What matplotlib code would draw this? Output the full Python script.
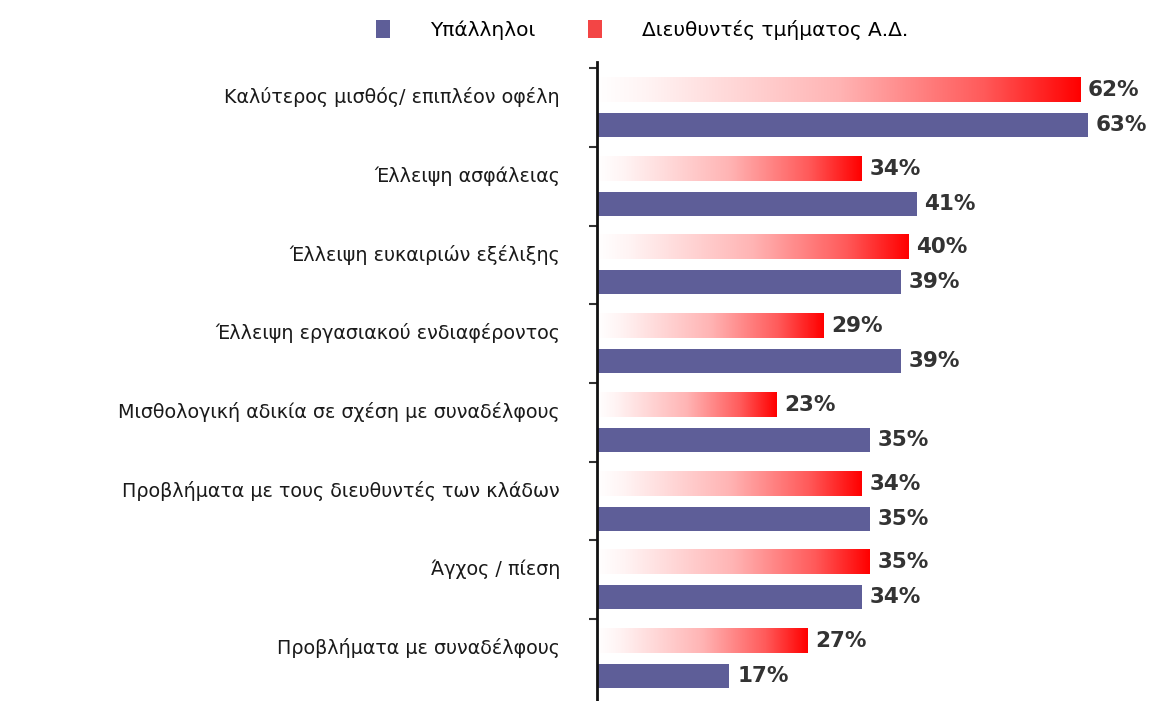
import numpy as np
import matplotlib
matplotlib.use("Agg")
import matplotlib.pyplot as plt
from matplotlib.colors import LinearSegmentedColormap
from matplotlib.patches import Patch

plt.rcParams['font.family'] = ['DejaVu Sans']

categories = [
    "Καλύτερος μισθός/ επιπλέον οφέλη",
    "Έλλειψη ασφάλειας",
    "Έλλειψη ευκαιριών εξέλιξης",
    "Έλλειψη εργασιακού ενδιαφέροντος",
    "Μισθολογική αδικία σε σχέση με συναδέλφους",
    "Προβλήματα με τους διευθυντές των κλάδων",
    "Άγχος / πίεση",
    "Προβλήματα με συναδέλφους",
]
employees = [63, 41, 39, 39, 35, 35, 34, 17]   # Υπάλληλοι
managers = [62, 34, 40, 29, 23, 34, 35, 27]    # Διευθυντές τμήματος Α.Δ.

blue = "#5e5e98"
red_cmap = LinearSegmentedColormap.from_list(
    "wr", [(0, "#ffffff"), (0.1, "#fff4f4"), (0.5, "#ffb4b4"), (0.8, "#ff5a5a"), (1, "#ff0000")])

fig = plt.figure(figsize=(11.62, 7.01), dpi=100)
ax = fig.add_axes([597 / 1162, 0, 1 - 597 / 1162, 639 / 701])

pos = np.arange(len(categories))
h = 0.305
off = 0.222

red_bars = ax.barh(pos - off, managers, height=h, color="none", edgecolor="none")
blue_bars = ax.barh(pos + off, employees, height=h, color=blue, edgecolor="none")

# gradient fill white -> red inside each manager bar
grad = np.linspace(0, 1, 256).reshape(1, -1)
for b in red_bars:
    x0, y0, w, hh = b.get_x(), b.get_y(), b.get_width(), b.get_height()
    ax.imshow(grad, cmap=red_cmap, aspect="auto", interpolation="bilinear",
              extent=[x0, x0 + w, y0 + hh, y0], zorder=2)

for bars, vals in [(red_bars, managers), (blue_bars, employees)]:
    for b, v in zip(bars, vals):
        ax.text(v + 1.0, b.get_y() + b.get_height() / 2, f"{v}%", va="center", ha="left",
                fontsize=15.5, fontweight="bold", color="#333333")

for p, c in zip(pos, categories):
    ax.text(-4.75, p - 0.13, c, va="center", ha="right", fontsize=13.8,
            color="#1a1a1a", clip_on=False)

ax.set_xlim(0, (1162 - 597) / 7.794)
ax.set_ylim(7.54, -0.578)

for s in ["top", "right", "bottom"]:
    ax.spines[s].set_visible(False)
ax.spines["left"].set_linewidth(2)
ax.spines["left"].set_color("#111111")
ax.set_xticks([])
ax.set_yticks(np.arange(len(categories)) - 0.5)
ax.set_yticklabels([])
ax.tick_params(axis="y", length=6, width=1.5, color="#333333")

handles = [Patch(facecolor=blue, edgecolor="none", label="Υπάλληλοι"),
           Patch(facecolor="#f34545", edgecolor="none", label="Διευθυντές τμήματος Α.Δ.")]
fig.legend(handles=handles, loc="center", bbox_to_anchor=(642 / 1162, 1 - 30 / 701),
           ncol=2, frameon=False, fontsize=14.5, handlelength=0.7, handleheight=1.0,
           handletextpad=2.0, columnspacing=2.6)

fig.savefig("out.png", dpi=100, facecolor="white")
